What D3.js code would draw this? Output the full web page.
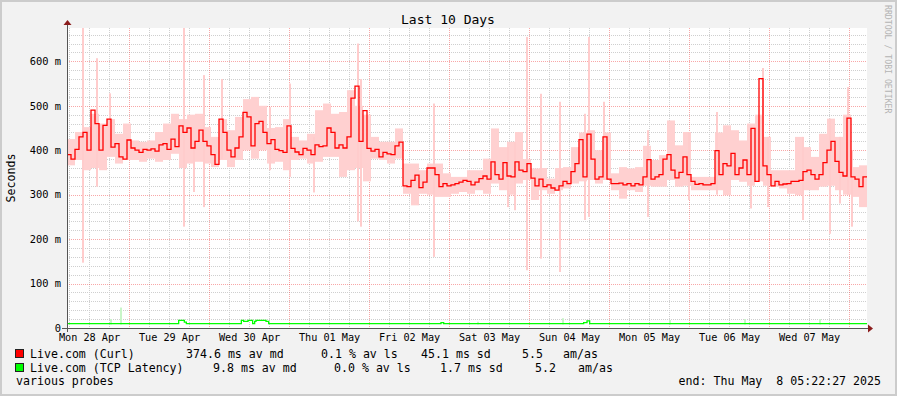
<!DOCTYPE html>
<html>
<head>
<meta charset="utf-8">
<script src="https://cdn.jsdelivr.net/npm/d3@7"></script>
<style>
  html, body { margin: 0; padding: 0; background: #f2f2f2; }
  svg { display: block; font-family: "DejaVu Sans Mono", monospace; }
</style>
</head>
<body>
<div class="container"></div>
<script>
const width = 897;
const height = 396;

// graph window
const start = new Date(2025, 3, 28, 5, 22, 27);
const end = new Date(2025, 4, 8, 5, 22, 27);
const hour = 3600 * 1000;

// Live.com (Curl) median, one value every 72 minutes
const curlMedian = [
  390, 380, 402, 430, 440, 400, 490, 460, 400, 456, 470, 407, 415, 385, 380, 423, 405, 400, 395, 402,
  400, 403, 398, 412, 415, 402, 425, 408, 455, 440, 450, 405, 420, 445, 420, 410, 390, 368, 470, 440,
  400, 385, 405, 430, 485, 475, 410, 460, 465, 440, 415, 424, 402, 399, 395, 455, 404, 396, 390, 404,
  400, 390, 412, 408, 410, 450, 440, 405, 412, 405, 430, 517, 544, 420, 489, 404, 398, 402, 385, 395,
  392, 390, 410, 418, 320, 318, 332, 344, 316, 328, 360, 360, 345, 318, 325, 320, 322, 325, 328, 332,
  330, 322, 328, 336, 342, 335, 374, 345, 335, 372, 342, 340, 374, 355, 352, 370, 337, 320, 335, 318,
  322, 315, 310, 320, 330, 325, 352, 370, 424, 340, 436, 380, 335, 340, 430, 335, 325, 325, 326, 322,
  325, 320, 325, 322, 340, 379, 335, 340, 345, 380, 390, 355, 338, 350, 385, 345, 330, 323, 325, 322,
  322, 325, 399, 345, 370, 365, 393, 345, 360, 378, 345, 449, 330, 561, 365, 345, 320, 330, 322, 324,
  325, 330, 330, 332, 352, 355, 345, 335, 345, 372, 400, 420, 375, 350, 342, 472, 340, 335, 318, 340
];

// smoke band, one value every 144 minutes
const smokeHi = [
  425, 441, 452, 482, 460, 470, 437, 460, 422, 419, 422, 441, 460, 482, 470, 480, 482, 452, 430, 470,
  445, 475, 515, 520, 500, 450, 452, 470, 430, 422, 437, 490, 505, 482, 486, 535, 500, 480, 430, 419,
  419, 449, 370, 370, 355, 370, 370, 348, 340, 340, 355, 355, 381, 449, 407, 419, 441, 380, 359, 360,
  336, 360, 362, 407, 440, 445, 400, 440, 348, 362, 359, 362, 410, 378, 389, 467, 411, 441, 340, 340,
  340, 440, 456, 445, 422, 460, 480, 430, 355, 355, 355, 430, 407, 385, 437, 471, 430, 480, 362, 366
];
const smokeLo = [
  366, 378, 355, 360, 355, 385, 370, 378, 378, 374, 381, 374, 378, 392, 360, 370, 374, 370, 362, 378,
  362, 378, 400, 381, 400, 370, 374, 355, 378, 381, 370, 374, 385, 385, 340, 355, 360, 330, 381, 378,
  370, 381, 302, 276, 302, 300, 295, 295, 302, 306, 302, 310, 302, 325, 310, 300, 325, 333, 288, 310,
  302, 310, 314, 325, 330, 333, 325, 333, 310, 291, 310, 306, 320, 318, 318, 333, 318, 320, 310, 310,
  310, 310, 299, 333, 329, 320, 330, 320, 318, 314, 302, 299, 310, 310, 318, 320, 310, 300, 295, 272
];

// single outlier pings (hours after start, low, high)
const spikeHours = [4.8, 9.0, 12.9, 35.1, 38.1, 41.1, 46.5, 60.9, 66.9, 74.1, 87.3, 88.2, 110.1, 132.3, 134.4, 138.0,
  142.2, 147.9, 155.4, 156.6, 161.1, 174.3, 186.6, 195.0, 205.2, 208.8, 210.3, 220.8, 228.9, 231.9, 234.3, 235.5];
const spikeLo = [147, 318, 400, 228, 306, 272, 380, 355, 340, 305, 240, 228, 160, 272, 265, 130,
  156, 126, 243, 250, 333, 250, 288, 300, 269, 330, 272, 243, 212, 280, 300, 228];
const spikeHi = [675, 607, 528, 675, 420, 569, 560, 497, 550, 430, 640, 560, 505, 407, 419, 655,
  527, 509, 482, 655, 509, 445, 440, 486, 449, 585, 430, 430, 471, 430, 542, 400];

// Live.com (TCP Latency) median, steps (hours after start)
const tcpHours = [0, 33.5, 35.2, 35.8, 52.3, 53.0, 54.3, 55.7, 56.3, 56.7, 59.7, 60.5, 112.2, 113.0, 155.0, 156.0, 156.8];
const tcpValues = [9.8, 17, 13, 9.8, 17, 15, 17, 10, 15, 17, 15, 9.8, 12, 9.8, 12, 16, 9.8];
const tcpSpikeHours = [13.2, 16.2, 123.3, 148.8, 180.9, 203.4, 225.9];
const tcpSpikeHi = [20, 46, 14, 22, 18, 20, 20];

const yTicks = [0, 100, 200, 300, 400, 500, 600];

const legendLabels = ['Live.com (Curl)', 'Live.com (TCP Latency)'];
const legendMedian = ['374.6 ms av md', '9.8 ms av md'];
const legendLoss = ['0.1 % av ls', '0.0 % av ls'];
const legendSd = ['45.1 ms sd', '1.7 ms sd'];
const legendAmas = ['5.5', '5.2'];
const legendColors = ['#ff0000', '#00ff00'];

const plotLeft = 67, plotRight = 867, plotTop = 28, plotBottom = 328;

const svg = d3.select('.container')
  .append('svg')
  .attr('width', width)
  .attr('height', height);

// background and frame
svg.append('rect').attr('width', width).attr('height', height).attr('fill', '#f2f2f2');
svg.append('rect').attr('x', 1).attr('y', 1).attr('width', width - 2).attr('height', height - 2)
  .attr('fill', 'none').attr('stroke', '#cccccc').attr('stroke-width', 2);
svg.append('rect').attr('x', plotLeft).attr('y', plotTop)
  .attr('width', plotRight - plotLeft).attr('height', plotBottom - plotTop)
  .attr('fill', '#ffffff');

const x = d3.scaleTime().domain([start, end]).range([plotLeft, plotRight]);
const y = d3.scaleLinear().domain([0, 675]).range([plotBottom, plotTop]);

const at = h => new Date(start.getTime() + h * hour);
const px = v => Math.round(v) + 0.5;

// grid
const minorY = d3.range(20, 675, 20).filter(v => v % 100 !== 0);
svg.append('g').selectAll('line').data(minorY).enter().append('line')
  .attr('x1', plotLeft).attr('x2', plotRight)
  .attr('y1', d => px(y(d))).attr('y2', d => px(y(d)))
  .attr('stroke', '#cfcfcf').attr('stroke-dasharray', '1,1');

const minorX = d3.timeHour.every(6).range(start, end).filter(d => d.getHours() !== 0);
svg.append('g').selectAll('line').data(minorX).enter().append('line')
  .attr('x1', d => px(x(d))).attr('x2', d => px(x(d)))
  .attr('y1', plotTop).attr('y2', plotBottom)
  .attr('stroke', '#cfcfcf').attr('stroke-dasharray', '1,1');

svg.append('g').selectAll('line').data(yTicks.filter(v => v > 0)).enter().append('line')
  .attr('x1', plotLeft).attr('x2', plotRight)
  .attr('y1', d => px(y(d))).attr('y2', d => px(y(d)))
  .attr('stroke', 'rgba(240,60,60,0.45)').attr('stroke-dasharray', '1,1');

const days = d3.timeDay.range(start, end);
svg.append('g').selectAll('line').data(days).enter().append('line')
  .attr('x1', d => px(x(d))).attr('x2', d => px(x(d)))
  .attr('y1', plotTop).attr('y2', plotBottom)
  .attr('stroke', 'rgba(240,60,60,0.45)').attr('stroke-dasharray', '1,1');

const plot = svg.append('g');

// smoke
const smokeStep = 2.4;
plot.selectAll('rect.smoke').data(smokeHi).enter().append('rect')
  .attr('class', 'smoke')
  .attr('x', (d, i) => x(at(i * smokeStep)))
  .attr('width', (d, i) => x(at((i + 1) * smokeStep)) - x(at(i * smokeStep)))
  .attr('y', d => y(d))
  .attr('height', (d, i) => y(smokeLo[i]) - y(d))
  .attr('fill', '#ffd0d0');

plot.selectAll('rect.spike').data(spikeHours).enter().append('rect')
  .attr('class', 'spike')
  .attr('x', d => x(at(d)) - 1)
  .attr('width', 2)
  .attr('y', (d, i) => y(spikeHi[i]))
  .attr('height', (d, i) => y(spikeLo[i]) - y(spikeHi[i]))
  .attr('fill', '#ffcccc');

plot.selectAll('rect.tcpspike').data(tcpSpikeHours).enter().append('rect')
  .attr('class', 'tcpspike')
  .attr('x', d => x(at(d)) - 1)
  .attr('width', 2)
  .attr('y', (d, i) => y(tcpSpikeHi[i]))
  .attr('height', (d, i) => y(8) - y(tcpSpikeHi[i]))
  .attr('fill', '#c8f5c8');

// median lines
const medianStep = 1.2;
const curlPts = curlMedian.map((v, i) => [at(i * medianStep), v]);
curlPts.push([end, curlMedian[curlMedian.length - 1]]);
const tcpPts = tcpValues.map((v, i) => [at(tcpHours[i]), v]);
tcpPts.push([end, tcpValues[tcpValues.length - 1]]);

const line = d3.line()
  .x(d => x(d[0]))
  .y(d => y(d[1]))
  .curve(d3.curveStepAfter);

plot.append('path').datum(tcpPts).attr('d', line)
  .attr('fill', 'none').attr('stroke', '#00ff00').attr('stroke-width', 1.3);
plot.append('path').datum(curlPts).attr('d', line)
  .attr('fill', 'none').attr('stroke', '#ff0000').attr('stroke-width', 1.3);

// axes
const yAxis = d3.axisLeft(y)
  .tickValues(yTicks)
  .tickSize(0)
  .tickPadding(6)
  .tickFormat(d => d === 0 ? '0' : d + ' m');
svg.append('g')
  .attr('transform', `translate(${plotLeft}, 0)`)
  .call(yAxis)
  .call(g => g.select('.domain').remove())
  .selectAll('text')
  .attr('font-family', 'DejaVu Sans Mono')
  .attr('font-size', 10.4)
  .attr('fill', '#000');

const noons = days.map(d => d3.timeHour.offset(d, -12)).concat([d3.timeHour.offset(days[days.length - 1], 12)])
  .filter(d => d > start && d < end);
const xAxis = d3.axisBottom(x)
  .tickValues(noons)
  .tickSize(0)
  .tickPadding(6)
  .tickFormat(d3.timeFormat('%a %d %b'));
svg.append('g')
  .attr('transform', `translate(0, ${plotBottom})`)
  .call(xAxis)
  .call(g => g.select('.domain').remove())
  .selectAll('text')
  .attr('font-family', 'DejaVu Sans Mono')
  .attr('font-size', 10.2)
  .attr('fill', '#000');

svg.append('line')
  .attr('x1', px(plotLeft)).attr('x2', px(plotLeft)).attr('y1', plotBottom + 4).attr('y2', plotTop - 6)
  .attr('stroke', '#555555');
svg.append('line')
  .attr('x1', plotLeft - 5).attr('x2', plotRight + 2).attr('y1', px(plotBottom)).attr('y2', px(plotBottom))
  .attr('stroke', '#555555');
svg.append('path')
  .attr('d', `M${plotLeft - 3.5},${plotTop - 3} L${plotLeft + 4.5},${plotTop - 3} L${plotLeft + 0.5},${plotTop - 8} Z`)
  .attr('fill', '#8b1c1c');
svg.append('path')
  .attr('d', `M${plotRight + 1},${plotBottom - 3.5} L${plotRight + 1},${plotBottom + 4.5} L${plotRight + 6},${plotBottom + 0.5} Z`)
  .attr('fill', '#8b1c1c');

// title, unit, watermark
svg.append('text').attr('x', 448).attr('y', 24)
  .attr('text-anchor', 'middle').attr('font-size', 13).attr('fill', '#000')
  .text('Last 10 Days');

svg.append('text')
  .attr('transform', `translate(15, ${(plotTop + plotBottom) / 2}) rotate(-90)`)
  .attr('text-anchor', 'middle').attr('font-size', 11.6).attr('fill', '#000')
  .text('Seconds');

svg.append('text')
  .attr('transform', 'translate(885, 5) rotate(90)')
  .attr('font-size', 8.2).attr('fill', '#b4b4b4')
  .text('RRDTOOL / TOBI OETIKER');

// legend
const rowY = [358, 372];
const cols = [
  [30, 186, 321, 421, 522, 563],
  [30, 213, 334, 440, 535, 578]
];
legendLabels.forEach((label, i) => {
  const g = svg.append('g').attr('font-size', 11.6).attr('fill', '#000');
  svg.append('rect')
    .attr('x', 15.5).attr('y', rowY[i] - 8.5).attr('width', 8).attr('height', 8)
    .attr('fill', legendColors[i]).attr('stroke', '#222');
  const parts = [label, legendMedian[i], legendLoss[i], legendSd[i], legendAmas[i], 'am/as'];
  parts.forEach((t, j) => {
    g.append('text').attr('x', cols[i][j]).attr('y', rowY[i]).text(t);
  });
});

svg.append('text').attr('x', 16).attr('y', 385)
  .attr('font-size', 11.6).attr('fill', '#000')
  .text('various probes');
svg.append('text').attr('x', 881).attr('y', 385)
  .attr('text-anchor', 'end').attr('font-size', 11.6).attr('fill', '#000')
  .style('white-space', 'pre')
  .text('end: Thu May  8 05:22:27 2025');
</script>
</body>
</html>
